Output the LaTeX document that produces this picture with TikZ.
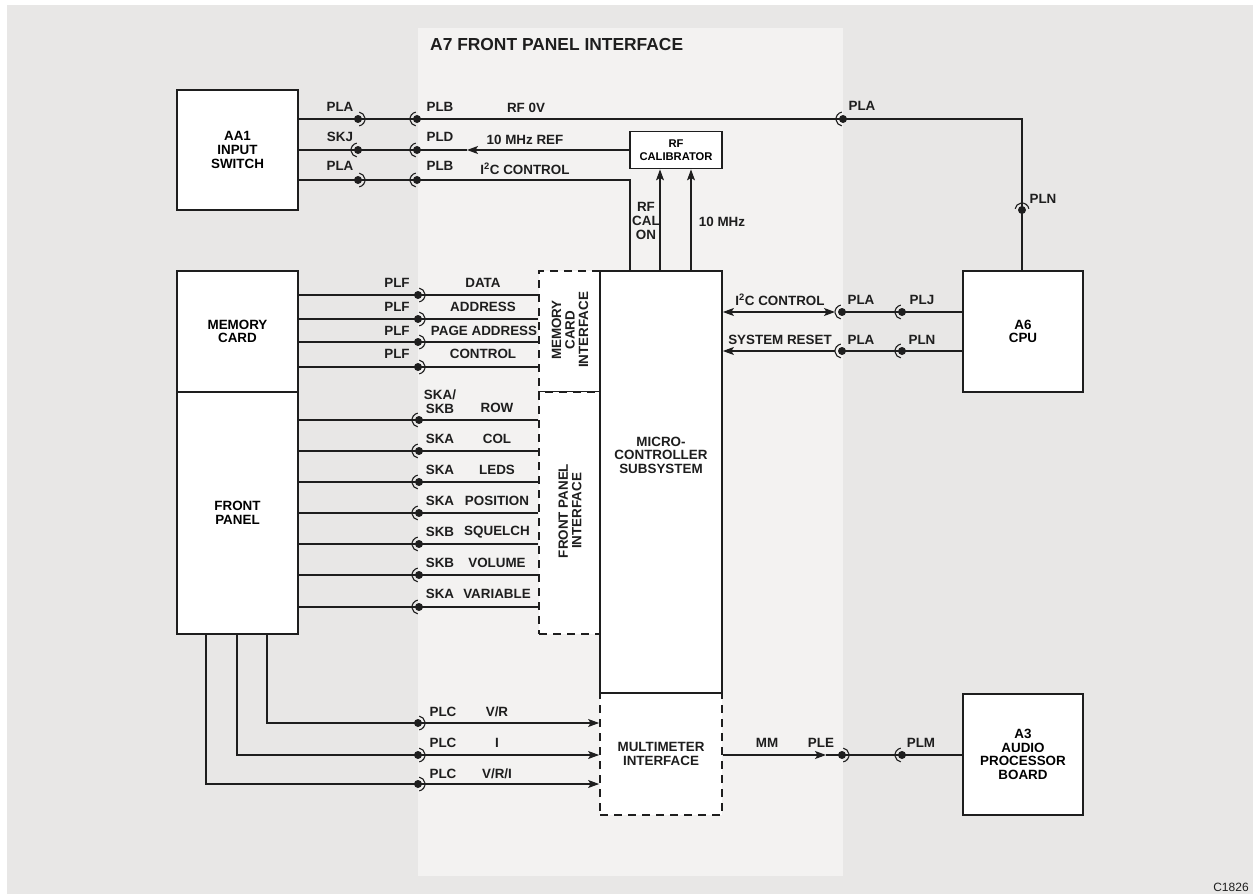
\documentclass[tikz,border=0pt]{standalone}
\usepackage{fontspec}
\setmainfont{Liberation Sans}
\usetikzlibrary{arrows.meta}
\definecolor{bggray}{HTML}{E8E7E6}
\definecolor{pangray}{HTML}{F3F2F1}
\definecolor{ink}{HTML}{1E1E1E}
\tikzset{
  lbl/.style={font=\fontsize{13.4}{13.6}\selectfont\bfseries, inner sep=0pt, align=center, text=ink},
  box/.style={draw=ink, line width=1.8pt, fill=white, inner sep=0pt, font=\fontsize{13.4}{13.6}\selectfont\bfseries, align=center},
  dbox/.style={draw=ink, line width=1.8pt, dash pattern=on 8pt off 6pt, fill=white, inner sep=0pt},
  wire/.style={line width=1.1pt, draw=ink},
  tip/.tip={Stealth[length=11pt,width=8pt,inset=2.5pt]},
  arr/.style={wire, -tip},
  conR/.pic={\fill[ink] (0,0) circle (4pt); \draw[ink, line width=1.1pt] (-80:7pt) arc (-80:80:7pt);},
  conL/.pic={\fill[ink] (0,0) circle (4pt); \draw[ink, line width=1.1pt] (100:7pt) arc (100:260:7pt);},
  conU/.pic={\fill[ink] (0,0) circle (4pt); \draw[ink, line width=1.1pt] (10:7pt) arc (10:170:7pt);}
}
\begin{document}
\begin{tikzpicture}[x=1pt,y=-1pt]
\useasboundingbox (0,0) rectangle (1256,894);
\fill[white] (0,0) rectangle (1256,894);
\fill[bggray] (7,5) rectangle (1253,894);
\fill[pangray] (418,28) rectangle (843,876);
\node[lbl, anchor=west, font=\fontsize{17.4}{19}\selectfont\bfseries] (title) at (430,45) {A7 FRONT PANEL INTERFACE};
\node[font=\fontsize{12}{13}\selectfont, inner sep=0pt, text=ink] (code) at (1231,887) {C1826};

% boxes
\node[box, minimum width=121pt, minimum height=120pt] (aa1) at (237.5,150) {AA1\\INPUT\\SWITCH};
\node[box, minimum width=121pt, minimum height=121pt] (mem) at (237.5,331.5) {MEMORY\\CARD};
\node[box, minimum width=121pt, minimum height=242pt] (fp) at (237.5,513) {FRONT\\PANEL};
\node[box, minimum width=92pt, minimum height=37pt, font=\fontsize{11.2}{13.5}\selectfont\bfseries] (cal) at (676,150) {RF\\CALIBRATOR};
\node[dbox, minimum width=61pt, minimum height=121pt] (mci) at (569.5,331.5) {};
\node[dbox, minimum width=61pt, minimum height=242pt] (fpi) at (569.5,513) {};
\node[dbox, minimum width=122pt, minimum height=122pt] (mmi) at (661,754) {};
\node[box, minimum width=122pt, minimum height=422pt] (mcu) at (661,482) {};
\node[box, minimum width=120pt, minimum height=121pt] (cpu) at (1023,331.5) {A6\\CPU};
\node[box, minimum width=120pt, minimum height=121pt] (a3) at (1023,754.5) {A3\\AUDIO\\PROCESSOR\\BOARD};

\node[lbl] (mcut) at (661,455) {MICRO-\\CONTROLLER\\SUBSYSTEM};
\node[lbl] (mmit) at (661,754) {MULTIMETER\\INTERFACE};
\node[lbl, rotate=90] (mcit) at (570,330) {MEMORY\\CARD\\INTERFACE};
\node[lbl, rotate=90] (fpit) at (570,511) {FRONT PANEL\\INTERFACE};

% coordinates
\coordinate (c1a) at (358,119); \coordinate (c1b) at (417,119);
\coordinate (c1c) at (843,119); \coordinate (tr) at (1022,119);
\coordinate (cpn) at (1022,210);
\coordinate (c2a) at (358,150); \coordinate (c2b) at (417,150); \coordinate (a10) at (467,150);
\coordinate (c3a) at (358,180); \coordinate (c3b) at (417,180); \coordinate (i2k) at (630,180);
\coordinate (u1) at (660,200); \coordinate (u2) at (691,200);

% top wires
\draw[wire] (aa1.east |- c1a) -- (c1a) -- (c1b) -- (c1c) -- (tr) -- (cpn) -- (cpu.north -| cpn);
\draw[wire] (aa1.east |- c2a) -- (c2a) -- (c2b) -- (a10);
\draw[arr] (cal.west) -- (a10);
\draw[wire] (aa1.east |- c3a) -- (c3a) -- (c3b) -- (i2k) -- (mcu.north -| i2k);
\draw[arr] (mcu.north -| u1) -- (cal.south -| u1);
\draw[arr] (mcu.north -| u2) -- (cal.south -| u2);
\pic at (c1a) {conR}; \pic at (c1b) {conL}; \pic at (c1c) {conL}; \pic at (cpn) {conU};
\pic at (c2a) {conL}; \pic at (c2b) {conL};
\pic at (c3a) {conR}; \pic at (c3b) {conL};

% memory card wires
\foreach \y [count=\i] in {295,319,342,367} {
  \coordinate (m\i) at (418,\y);
  \draw[wire] (mem.east |- m\i) -- (mci.west |- m\i);
  \pic at (m\i) {conR};
}
% front panel wires
\foreach \y [count=\i] in {420,451,482,513,544,575,607} {
  \coordinate (f\i) at (419,\y);
  \draw[wire] (fp.east |- f\i) -- (fpi.west |- f\i);
  \pic at (f\i) {conL};
}
% multimeter wires
\coordinate (d1) at (267,723); \coordinate (b1) at (418,723);
\coordinate (d2) at (237,755); \coordinate (b2) at (418,755);
\coordinate (d3) at (206,784); \coordinate (b3) at (418,784);
\draw[arr] (fp.south -| d1) -- (d1) -- (mmi.west |- d1);
\draw[arr] (fp.south -| d2) -- (d2) -- (mmi.west |- d2);
\draw[arr] (fp.south -| d3) -- (d3) -- (mmi.west |- d3);
\pic at (b1) {conR}; \pic at (b2) {conR}; \pic at (b3) {conR};

% cpu wires
\coordinate (r1t) at (835,312); \coordinate (r1a) at (842,312); \coordinate (r1b) at (902,312);
\coordinate (r2t) at (835,351); \coordinate (r2a) at (842,351); \coordinate (r2b) at (902,351);
\draw[wire, tip-tip] (mcu.east |- r1t) -- (r1t);
\draw[wire] (r1a) -- (r1b) -- (cpu.west |- r1b);
\draw[arr] (r2t) -- (mcu.east |- r2t);
\draw[wire] (r2a) -- (r2b) -- (cpu.west |- r2b);
\pic at (r1a) {conL}; \pic at (r1b) {conL}; \pic at (r2a) {conL}; \pic at (r2b) {conL};

% MM wire
\coordinate (mmA) at (826,755); \coordinate (ple) at (842,755); \coordinate (plm) at (902,755);
\draw[arr] (mmi.east |- ple) -- (mmA);
\draw[wire] (mmA) -- (ple) -- (plm) -- (a3.west |- plm);
\pic at (ple) {conR}; \pic at (plm) {conL};

% labels top
\node[lbl] (t1) at (340,107) {PLA};
\node[lbl] (t2) at (440,107) {PLB};
\node[lbl] (t3) at (526,108) {RF 0V};
\node[lbl] (t4) at (340,137) {SKJ};
\node[lbl] (t5) at (440,137) {PLD};
\node[lbl] (t6) at (525,140) {10 MHz REF};
\node[lbl] (t7) at (340,166) {PLA};
\node[lbl] (t8) at (440,166) {PLB};
\node[lbl] (t9) at (525,169) {I\textsuperscript{2}C CONTROL};
\node[lbl] (t10) at (862,106) {PLA};
\node[lbl] (t11) at (646,221) {RF\\CAL\\ON};
\node[lbl] (t12) at (722,222) {10 MHz};
\node[lbl] (t13) at (1043,199) {PLN};

% memory labels
\node[lbl] (p1) at (397,283) {PLF}; \node[lbl] (s1) at (483,283) {DATA};
\node[lbl] (p2) at (397,307) {PLF}; \node[lbl] (s2) at (483,307) {ADDRESS};
\node[lbl] (p3) at (397,331) {PLF}; \node[lbl] (s3) at (484,331) {PAGE ADDRESS};
\node[lbl] (p4) at (397,354) {PLF}; \node[lbl] (s4) at (483,354) {CONTROL};

% front panel labels
\node[lbl] (k1) at (440,402) {SKA/\\SKB}; \node[lbl] (g1) at (497,408) {ROW};
\node[lbl] (k2) at (440,439) {SKA}; \node[lbl] (g2) at (497,439) {COL};
\node[lbl] (k3) at (440,470) {SKA}; \node[lbl] (g3) at (497,470) {LEDS};
\node[lbl] (k4) at (440,501) {SKA}; \node[lbl] (g4) at (497,501) {POSITION};
\node[lbl] (k5) at (440,532) {SKB}; \node[lbl] (g5) at (497,532) {SQUELCH};
\node[lbl] (k6) at (440,563) {SKB}; \node[lbl] (g6) at (497,563) {VOLUME};
\node[lbl] (k7) at (440,594) {SKA}; \node[lbl] (g7) at (497,594) {VARIABLE};

% multimeter labels
\node[lbl] (q1) at (443,712) {PLC}; \node[lbl] (v1) at (497,712) {V/R};
\node[lbl] (q2) at (443,743) {PLC}; \node[lbl] (v2) at (497,743) {I};
\node[lbl] (q3) at (443,774) {PLC}; \node[lbl] (v3) at (497,774) {V/R/I};

% cpu labels
\node[lbl] (e1) at (780,300) {I\textsuperscript{2}C CONTROL};
\node[lbl] (e2) at (861,300) {PLA};
\node[lbl] (e3) at (922,300) {PLJ};
\node[lbl] (e4) at (780,340) {SYSTEM RESET};
\node[lbl] (e5) at (861,340) {PLA};
\node[lbl] (e6) at (922,340) {PLN};

% MM labels
\node[lbl] (n1) at (767,743) {MM};
\node[lbl] (n2) at (821,743) {PLE};
\node[lbl] (n3) at (921,743) {PLM};
\end{tikzpicture}
\end{document}
